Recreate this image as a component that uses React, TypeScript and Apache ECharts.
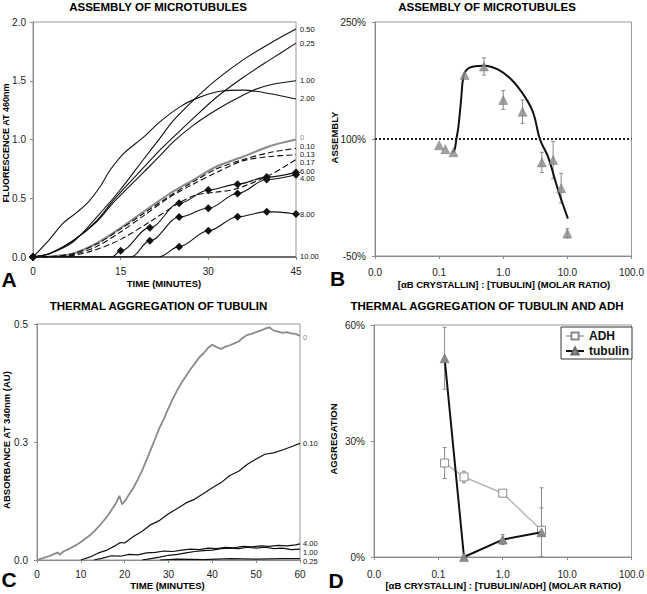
import React, { useEffect, useRef } from "react";
import * as echarts from "echarts";

const FONT = '"Liberation Sans", Arial, Helvetica, sans-serif';
type P = [number, number];

// ---------- Panel A: assembly of microtubules (fluorescence at 460nm vs time)
const A_R050: P[] = [[0, 0], [2.9, 0.03], [6.9, 0.13], [10.9, 0.34], [14.9, 0.57], [18.9, 0.83], [21.7, 1.01], [24, 1.16], [28, 1.36], [31.4, 1.51], [36, 1.68], [40.6, 1.82], [45, 1.94]];
const A_R025: P[] = [[0, 0], [2.9, 0.03], [6.9, 0.14], [10.9, 0.31], [13.7, 0.48], [18.9, 0.76], [21.7, 0.91], [24, 1.02], [27.4, 1.18], [31.4, 1.36], [36, 1.53], [40.6, 1.68], [45, 1.82]];
const A_R100: P[] = [[0, 0], [2.9, 0.03], [6.9, 0.14], [10.9, 0.3], [13.7, 0.46], [18.9, 0.72], [21.7, 0.86], [24, 0.98], [27.4, 1.12], [31, 1.24], [34.5, 1.34], [37.7, 1.42], [41, 1.47], [45, 1.5]];
const A_R200: P[] = [[0, 0], [2.5, 0.13], [5.2, 0.29], [7.5, 0.38], [9.5, 0.47], [11.5, 0.6], [13.2, 0.74], [15.5, 0.88], [18.9, 1.02], [21.7, 1.15], [25.2, 1.28], [28, 1.35], [32, 1.41], [36, 1.42], [40.6, 1.39], [45, 1.345]];
const A_R000: P[] = [[0, 0], [3, 0.005], [6.9, 0.03], [10.9, 0.117], [14.9, 0.244], [18.9, 0.385], [23.1, 0.53], [27.4, 0.655], [31.4, 0.77], [36, 0.855], [40.6, 0.945], [45, 1.0]];
const A_R010: P[] = [[0, 0], [3, 0.004], [6.9, 0.03], [10.9, 0.11], [14.9, 0.235], [18.9, 0.37], [23.1, 0.51], [27.4, 0.64], [31.4, 0.75], [36, 0.83], [40.6, 0.89], [45, 0.925]];
const A_R013: P[] = [[0, 0], [3, 0.002], [6.9, 0.02], [10.9, 0.09], [14.9, 0.21], [18.9, 0.35], [23.1, 0.5], [27.4, 0.62], [31.4, 0.72], [36, 0.82], [40.6, 0.855], [45, 0.87]];
const A_R017: P[] = [[0, 0], [5, 0.003], [10, 0.05], [15, 0.15], [20, 0.3], [25, 0.46], [28, 0.53], [31, 0.55], [34.8, 0.58], [40.6, 0.7], [45, 0.83]];
const A_R600: P[] = [[0, 0], [13.5, 0], [15, 0.054], [20, 0.25], [25, 0.457], [30, 0.57], [35, 0.62], [40, 0.68], [45, 0.72]];
const A_R400: P[] = [[0, 0], [16.8, 0], [20, 0.139], [25, 0.34], [30, 0.415], [35, 0.54], [40, 0.66], [45, 0.7]];
const A_R800: P[] = [[0, 0], [21.5, 0], [25, 0.088], [30, 0.224], [35, 0.343], [40, 0.386], [45, 0.366]];
const A_R1000: P[] = [[0, 0], [45, 0]];

// ---------- Panel B: assembly (%) vs molar ratio
const B_RATIOS = [0.1, 0.125, 0.167, 0.25, 0.5, 1, 2, 4, 6, 8, 10];
const B_ASSEMBLY = [92, 87, 83, 182, 193, 150, 135, 70, 73, 37, -21];
const B_ERR = [0, 0, 0, 0, 11, 12, 15, 13, 24, 19, 6];
const B_FIT_X = [0.16, 0.172, 0.18, 0.186, 0.2, 0.22, 0.239, 0.27, 0.342, 0.5, 0.836, 1.35, 2.18, 2.95, 3.72, 5.0, 7.2, 10.2];
const B_FIT_Y = [83, 85, 92, 100, 116, 150, 180, 189, 193, 194, 189, 176, 154, 133, 100, 77, 34, -2];
const B_REFERENCE = 100;

// ---------- Panel C: thermal aggregation of tubulin (absorbance vs time)
const C_R000: P[] = [[0, 0], [1, 0.003], [2, 0.006], [3, 0.009], [4, 0.013], [4.8, 0.016], [5.2, 0.011], [6, 0.018], [7, 0.022], [8, 0.027], [9, 0.032], [10, 0.038], [11, 0.045], [12, 0.052], [13, 0.06], [14, 0.07], [15, 0.081], [16, 0.092], [17, 0.106], [18, 0.12], [18.8, 0.136], [19.4, 0.118], [20, 0.124], [21, 0.139], [22, 0.153], [23, 0.171], [24, 0.19], [25, 0.212], [26, 0.235], [27, 0.258], [28, 0.281], [29, 0.3], [30, 0.322], [31, 0.342], [32, 0.36], [33, 0.376], [34, 0.39], [35, 0.404], [36, 0.416], [37, 0.429], [38, 0.438], [39, 0.449], [40, 0.456], [41, 0.451], [42, 0.447], [43, 0.452], [44, 0.455], [45, 0.459], [46, 0.463], [47, 0.471], [48, 0.477], [49, 0.479], [50, 0.483], [51, 0.486], [52, 0.49], [53, 0.493], [54, 0.486], [55, 0.484], [56, 0.481], [57, 0.483], [58, 0.48], [59, 0.479], [60, 0.475]];
const C_R010: P[] = [[10, 0], [12, 0.006], [14, 0.015], [16, 0.021], [18, 0.031], [19, 0.037], [20, 0.036], [22, 0.05], [24, 0.061], [26, 0.075], [28, 0.084], [30, 0.098], [32, 0.109], [34, 0.121], [36, 0.129], [38, 0.141], [40, 0.153], [42, 0.164], [44, 0.179], [46, 0.188], [48, 0.203], [50, 0.214], [52, 0.224], [54, 0.227], [56, 0.233], [58, 0.24], [60, 0.247]];
const C_R400: P[] = [[13, 0], [15, 0.004], [17, 0.009], [19, 0.008], [21, 0.012], [23, 0.011], [25, 0.015], [27, 0.016], [29, 0.019], [31, 0.018], [33, 0.021], [35, 0.023], [37, 0.022], [39, 0.025], [41, 0.024], [43, 0.027], [45, 0.026], [47, 0.029], [49, 0.028], [51, 0.03], [53, 0.029], [55, 0.031], [57, 0.03], [59, 0.032], [60, 0.034]];
const C_R100: P[] = [[24, 0], [26, 0.003], [28, 0.006], [30, 0.01], [32, 0.012], [34, 0.015], [36, 0.018], [38, 0.02], [40, 0.021], [42, 0.024], [44, 0.025], [46, 0.024], [48, 0.027], [50, 0.025], [52, 0.027], [54, 0.024], [56, 0.025], [58, 0.022], [60, 0.023]];
const C_R025: P[] = [[28, 0], [32, 0.002], [38, 0.001], [44, 0.003], [50, 0.002], [56, 0.003], [60, 0.003]];

// ---------- Panel D: thermal aggregation of tubulin and ADH
const D_RATIOS = [0.125, 0.25, 1, 4];
const D_ADH = [24.3, 20.7, 16.5, 6.9];
const D_ADH_ERR = [4, 1.5, 0, 11];
const D_TUB = [51.4, 0, 4.5, 6.4];
const D_TUB_ERR = [8, 0, 1.3, 6.3];

const GRAY = "#8a8a8a";
const AXIS = "#8c8c8c";
const INK = "#111";

function axisBase(gridIndex: number, labelMargin: number) {
  return {
    gridIndex,
    axisLine: { show: true, onZero: false, lineStyle: { color: AXIS, width: 1 } },
    axisTick: { show: true, length: 3, lineStyle: { color: AXIS } },
    axisLabel: { fontSize: 10, color: "#222", margin: labelMargin, fontFamily: FONT },
    splitLine: { show: false },
  };
}

function errorBars(xi: number, xs: number[], ys: number[], errs: number[], color: string) {
  const data: number[][] = [];
  xs.forEach((x, i) => {
    if (errs[i] > 0) data.push([x, ys[i] - errs[i], ys[i] + errs[i]]);
  });
  return {
    type: "custom",
    xAxisIndex: xi,
    yAxisIndex: xi,
    data,
    clip: true,
    silent: true,
    z: 1,
    encode: { x: 0, y: [1, 2] },
    renderItem: (_p: any, api: any) => {
      const x = api.value(0);
      const lo = api.coord([x, api.value(1)]);
      const hi = api.coord([x, api.value(2)]);
      const w = 2;
      const st = { stroke: color, lineWidth: 1 };
      return {
        type: "group",
        children: [
          { type: "line", shape: { x1: lo[0], y1: lo[1], x2: hi[0], y2: hi[1] }, style: st },
          { type: "line", shape: { x1: lo[0] - w, y1: lo[1], x2: lo[0] + w, y2: lo[1] }, style: st },
          { type: "line", shape: { x1: hi[0] - w, y1: hi[1], x2: hi[0] + w, y2: hi[1] }, style: st },
        ],
      };
    },
  };
}

function buildOption() {
  const aDefs: { name: string; data: P[]; kind: string; dy: number }[] = [
    { name: "0.50", data: A_R050, kind: "solid", dy: 0 },
    { name: "0.25", data: A_R025, kind: "solid", dy: 0 },
    { name: "1.00", data: A_R100, kind: "solid", dy: 0 },
    { name: "2.00", data: A_R200, kind: "solid", dy: 0 },
    { name: "0", data: A_R000, kind: "gray", dy: -2 },
    { name: "0.10", data: A_R010, kind: "dashed", dy: -2 },
    { name: "0.13", data: A_R013, kind: "dashed", dy: -0.5 },
    { name: "0.17", data: A_R017, kind: "dashed", dy: 3 },
    { name: "6.00", data: A_R600, kind: "diamond", dy: -1.4 },
    { name: "4.00", data: A_R400, kind: "diamond", dy: 4 },
    { name: "8.00", data: A_R800, kind: "diamond", dy: 1 },
    { name: "10.00", data: A_R1000, kind: "diamond", dy: -1 },
  ];
  const aSeries = aDefs.map((d) => {
    const diamond = d.kind === "diamond";
    return {
      type: "line",
      name: d.name,
      xAxisIndex: 0,
      yAxisIndex: 0,
      data: d.data,
      smooth: diamond ? 0.35 : 0.3,
      ...(diamond ? { smoothMonotone: "x" } : {}),
      symbol: diamond ? (v: number[]) => (v[0] > 0 && v[1] === 0 ? "none" : "diamond") : "none",
      symbolSize: 8,
      showSymbol: diamond,
      itemStyle: { color: INK },
      lineStyle: {
        color: d.kind === "gray" ? GRAY : INK,
        width: d.kind === "gray" ? 2 : 1.1,
        type: d.kind === "dashed" ? [6, 3] : "solid",
      },
      z: d.kind === "gray" ? 2 : 3,
      silent: true,
      endLabel: {
        show: true,
        formatter: d.name,
        distance: 4,
        offset: [0, d.dy],
        fontSize: 7.5,
        lineHeight: 7.5,
        fontFamily: FONT,
        color: d.kind === "gray" ? GRAY : INK,
      },
    };
  });

  const cDefs: { name: string; data: P[]; gray: boolean; dy: number }[] = [
    { name: "0", data: C_R000, gray: true, dy: 2 },
    { name: "0.10", data: C_R010, gray: false, dy: 0 },
    { name: "4.00", data: C_R400, gray: false, dy: -0.5 },
    { name: "1.00", data: C_R100, gray: false, dy: 3 },
    { name: "0.25", data: C_R025, gray: false, dy: 2.5 },
  ];
  const cSeries = cDefs.map((d) => ({
    type: "line",
    name: "C" + d.name,
    xAxisIndex: 2,
    yAxisIndex: 2,
    data: d.data,
    symbol: "none",
    silent: true,
    lineStyle: { color: d.gray ? GRAY : INK, width: d.gray ? 1.8 : 1.2 },
    z: d.gray ? 2 : 3,
    endLabel: {
      show: true,
      formatter: d.name,
      distance: 3,
      offset: [0, d.dy],
      fontSize: 7.5,
      lineHeight: 7.5,
      fontFamily: FONT,
      color: d.gray ? GRAY : INK,
    },
  }));

  const logAxis = (gi: number, margin: number) => ({
    ...axisBase(gi, margin),
    type: "log",
    logBase: 10,
    min: 0.01,
    max: 100,
    axisLabel: {
      ...axisBase(gi, margin).axisLabel,
      formatter: (v: number) => (v < 0.05 ? "0.0" : Number(v).toFixed(1)),
    },
    minorTick: { show: false },
  });

  const txt = (text: string, x: number, y: number, size: number, rot = 0) => ({
    type: "text",
    x,
    y,
    rotation: rot,
    silent: true,
    style: {
      text,
      x: 0,
      y: 0,
      align: "center",
      verticalAlign: "middle",
      fontSize: size,
      fontWeight: "bold",
      fontFamily: FONT,
      fill: "#000",
    },
  });

  return {
    animation: false,
    backgroundColor: "#fff",
    textStyle: { fontFamily: FONT },
    grid: [
      { left: 33, top: 22, width: 263, height: 235, show: true, borderColor: "#999", borderWidth: 1 },
      { left: 375, top: 22, width: 257, height: 234, show: true, borderColor: "#999", borderWidth: 1 },
      { left: 37, top: 324, width: 263, height: 236, show: true, borderColor: "#999", borderWidth: 1 },
      { left: 374, top: 325, width: 258, height: 232, show: true, borderColor: "#999", borderWidth: 1 },
    ],
    xAxis: [
      { ...axisBase(0, 9), type: "value", min: 0, max: 45, interval: 15 },
      logAxis(1, 11),
      { ...axisBase(2, 9), type: "value", min: 0, max: 60, interval: 10 },
      logAxis(3, 12),
    ],
    yAxis: [
      {
        ...axisBase(0, 7),
        type: "value",
        min: 0,
        max: 2,
        interval: 0.5,
        axisLabel: { ...axisBase(0, 7).axisLabel, formatter: (v: number) => v.toFixed(1) },
      },
      {
        ...axisBase(1, 9),
        type: "value",
        min: -50,
        max: 250,
        interval: 150,
        axisLabel: { ...axisBase(1, 9).axisLabel, formatter: (v: number) => v + "%" },
      },
      {
        ...axisBase(2, 9),
        type: "value",
        min: 0,
        max: 0.5,
        interval: 0.25,
        axisLabel: { ...axisBase(2, 9).axisLabel, formatter: (v: number) => v.toFixed(1) },
      },
      {
        ...axisBase(3, 9),
        type: "value",
        min: 0,
        max: 60,
        interval: 30,
        axisLabel: { ...axisBase(3, 9).axisLabel, formatter: (v: number) => v + "%" },
      },
    ],
    legend: {
      data: ["ADH", "tubulin"],
      orient: "vertical",
      right: 15,
      top: 327,
      itemWidth: 18,
      itemHeight: 9,
      itemGap: 3,
      padding: [3, 3, 2, 4],
      borderColor: "#333",
      borderWidth: 1,
      backgroundColor: "#fff",
      selectedMode: false,
      textStyle: { fontSize: 12, fontWeight: "bold", color: INK, fontFamily: FONT },
    },
    series: [
      ...aSeries,
      // Panel B
      {
        type: "line",
        name: "ref100",
        xAxisIndex: 1,
        yAxisIndex: 1,
        data: [[0.01, B_REFERENCE], [100, B_REFERENCE]],
        symbol: "none",
        silent: true,
        lineStyle: { color: "#222", width: 2, type: [2, 2] },
      },
      {
        type: "line",
        name: "fit",
        xAxisIndex: 1,
        yAxisIndex: 1,
        data: B_FIT_X.map((x, i) => [x, B_FIT_Y[i]]),
        symbol: "none",
        smooth: 0.4,
        silent: true,
        lineStyle: { color: INK, width: 2 },
        z: 3,
      },
      errorBars(1, B_RATIOS, B_ASSEMBLY, B_ERR, GRAY),
      {
        type: "scatter",
        name: "assembly",
        xAxisIndex: 1,
        yAxisIndex: 1,
        data: B_RATIOS.map((x, i) => [x, B_ASSEMBLY[i]]),
        symbol: "triangle",
        symbolSize: 9,
        silent: true,
        itemStyle: { color: "#8a8a8a", borderColor: "#6a6a6a", borderWidth: 0.5 },
        z: 4,
      },
      // Panel C
      ...cSeries,
      // Panel D
      errorBars(3, D_RATIOS, D_ADH, D_ADH_ERR, GRAY),
      errorBars(3, D_RATIOS, D_TUB, D_TUB_ERR, GRAY),
      {
        type: "line",
        name: "ADH",
        xAxisIndex: 3,
        yAxisIndex: 3,
        data: D_RATIOS.map((x, i) => [x, D_ADH[i]]),
        symbol: "rect",
        symbolSize: 8,
        showSymbol: true,
        silent: true,
        itemStyle: { color: "#fff", borderColor: "#8a8a8a", borderWidth: 1 },
        lineStyle: { color: "#b8b8b8", width: 1.5 },
        z: 3,
      },
      {
        type: "line",
        name: "tubulin",
        xAxisIndex: 3,
        yAxisIndex: 3,
        data: D_RATIOS.map((x, i) => [x, D_TUB[i]]),
        symbol: "triangle",
        symbolSize: 9,
        showSymbol: true,
        silent: true,
        itemStyle: { color: "#8a8a8a", borderColor: "#6a6a6a", borderWidth: 0.5 },
        lineStyle: { color: INK, width: 2 },
        z: 4,
      },
    ],
    graphic: [
      txt("ASSEMBLY OF MICROTUBULES", 158, 7, 11.5),
      txt("ASSEMBLY OF MICROTUBULES", 487, 7, 11.5),
      txt("THERMAL AGGREGATION OF TUBULIN", 158.5, 306, 11.5),
      txt("THERMAL AGGREGATION OF TUBULIN AND ADH", 487, 306, 11.5),
      txt("TIME (MINUTES)", 164, 283.5, 9.5),
      txt("[αB CRYSTALLIN] : [TUBULIN] (MOLAR RATIO)", 504, 284, 9.5),
      txt("TIME (MINUTES)", 167.5, 585.7, 9.5),
      txt("[αB CRYSTALLIN] : [TUBULIN/ADH] (MOLAR RATIO)", 503.3, 585.7, 9.5),
      txt("FLUORESCENCE AT 460nm", 5.5, 143, 9, Math.PI / 2),
      txt("ASSEMBLY", 334, 137.5, 9.5, Math.PI / 2),
      txt("ABSORBANCE AT 340nm (AU)", 6, 440, 9.5, Math.PI / 2),
      txt("AGGREGATION", 333.5, 439, 9.5, Math.PI / 2),
      txt("A", 9, 279.5, 21),
      txt("B", 337.5, 278, 21),
      txt("C", 9, 579, 21),
      txt("D", 336, 580, 21),
    ],
  };
}

export default function App() {
  const ref = useRef<HTMLDivElement>(null);
  useEffect(() => {
    document.body.style.margin = "0";
    const chart = echarts.init(ref.current!, null, { renderer: "svg" });
    chart.setOption(buildOption() as any);
    return () => chart.dispose();
  }, []);
  return <div ref={ref} style={{ width: 647, height: 594 }} />;
}
